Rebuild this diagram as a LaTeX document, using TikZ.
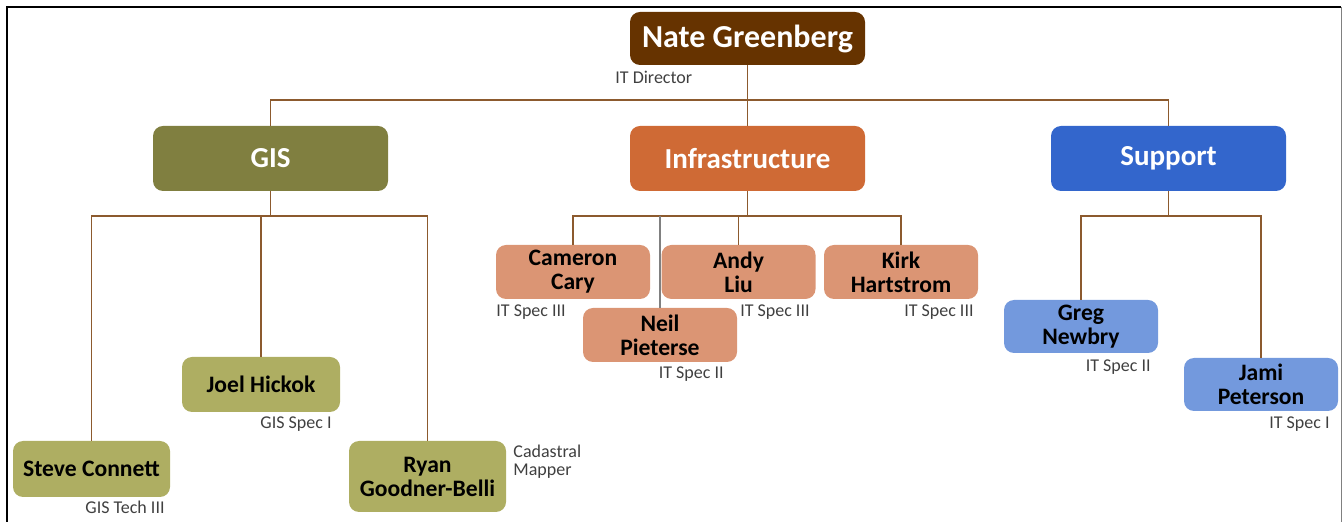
\documentclass[tikz,border=0pt]{standalone}
\usepackage{fontspec}
\setmainfont{Carlito}
\definecolor{natebrown}{HTML}{663300}
\definecolor{gisolive}{HTML}{807F40}
\definecolor{infraorange}{HTML}{CF6A35}
\definecolor{supblue}{HTML}{3366CC}
\definecolor{gisleaf}{HTML}{AEAE62}
\definecolor{infraleaf}{HTML}{DB9574}
\definecolor{supleaf}{HTML}{7399DD}
\definecolor{linkbrown}{HTML}{8C5A2E}
\definecolor{rolegray}{HTML}{404040}
\begin{document}
\begin{tikzpicture}[x=0.5pt,y=-0.5pt,
	box/.style={rounded corners=5pt,inner sep=0pt,align=center},
	head/.style={box,minimum width=117.5pt,minimum height=32.5pt,text=white,font=\bfseries\fontsize{14.5}{16}\selectfont},
	leaf/.style={box,minimum width=77pt,minimum height=27pt,font=\bfseries\fontsize{11.8}{12}\selectfont},
	role/.style={inner sep=0pt,text=rolegray,align=left,font=\fontsize{9}{9}\selectfont},
	link/.style={draw=linkbrown,line width=0.75pt}]
	\useasboundingbox (0,0) rectangle (1342,522);
	\draw[line width=1pt] (7,522)--(7,7)--(1341,7);
	\draw[gray,line width=0.5pt] (1341,7)--(1341,522);
	\node[head,fill=natebrown,minimum height=26.5pt,font=\bfseries\fontsize{16}{18}\selectfont] (nate) at (747.5,38.5) {Nate Greenberg};
	\node[head,fill=gisolive] (gis) at (270.5,158.5) {GIS};
	\node[head,fill=infraorange] (infra) at (747.5,158.5) {Infrastructure};
	\node[head,fill=supblue] (sup) at (1168.5,158.5) {Support};
	\node[leaf,fill=gisleaf,minimum width=78.5pt,minimum height=28pt] (steve) at (91.5,469) {Steve Connett};
	\node[leaf,fill=gisleaf,minimum width=79pt,minimum height=27.5pt] (joel) at (261,384.5) {Joel Hickok};
	\node[leaf,fill=gisleaf,minimum width=78.5pt,minimum height=35.5pt] (ryan) at (427.5,476.5) {Ryan\\Goodner-Belli};
	\node[leaf,fill=infraleaf] (cameron) at (573,272) {Cameron\\Cary};
	\node[leaf,fill=infraleaf] (andy) at (738.5,272) {Andy\\Liu};
	\node[leaf,fill=infraleaf] (kirk) at (901,272) {Kirk\\Hartstrom};
	\node[leaf,fill=infraleaf] (neil) at (660,335) {Neil\\Pieterse};
	\node[leaf,fill=supleaf,minimum height=26.5pt] (greg) at (1081,326.5) {Greg\\Newbry};
	\node[leaf,fill=supleaf,minimum height=26.5pt] (jami) at (1261,384.5) {Jami\\Peterson};
	\node[role,anchor=west] (nater) at (615,77) {IT Director};
	\node[role,anchor=east] (stever) at (165,507) {GIS Tech III};
	\node[role,anchor=east] (joelr) at (332,424) {GIS Spec I};
	\node[role,anchor=west] (ryanr) at (513,462) {Cadastral\\Mapper};
	\node[role,anchor=west] (cameronr) at (496,312) {IT Spec III};
	\node[role,anchor=east] (andyr) at (810,312) {IT Spec III};
	\node[role,anchor=east] (kirkr) at (974,312) {IT Spec III};
	\node[role,anchor=east] (neilr) at (724,374) {IT Spec II};
	\node[role,anchor=east] (gregr) at (1151,367) {IT Spec II};
	\node[role,anchor=east] (jamir) at (1330,424) {IT Spec I};
	\coordinate (barA) at (0,100);
	\coordinate (barB) at (0,216);
	\draw[link] (gis.north) |- (nate.south |- barA) -| (sup.north);
	\draw[link] (nate.south) -- (infra.north);
	\draw[link] (steve.north) |- (gis.south |- barB) -| (ryan.north);
	\draw[link] (gis.south) -- (gis.south |- barB) -| (joel.north);
	\draw[link] (cameron.north) |- (infra.south |- barB) -| (kirk.north);
	\draw[link] (infra.south) -- (infra.south |- barB) -| (andy.north);
	\draw[gray,line width=0.75pt] (neil.north) -- (neil.north |- barB);
	\draw[link] (greg.north) |- (sup.south |- barB) -| (jami.north);
	\draw[link] (sup.south) -- (sup.south |- barB);
\end{tikzpicture}
\end{document}
